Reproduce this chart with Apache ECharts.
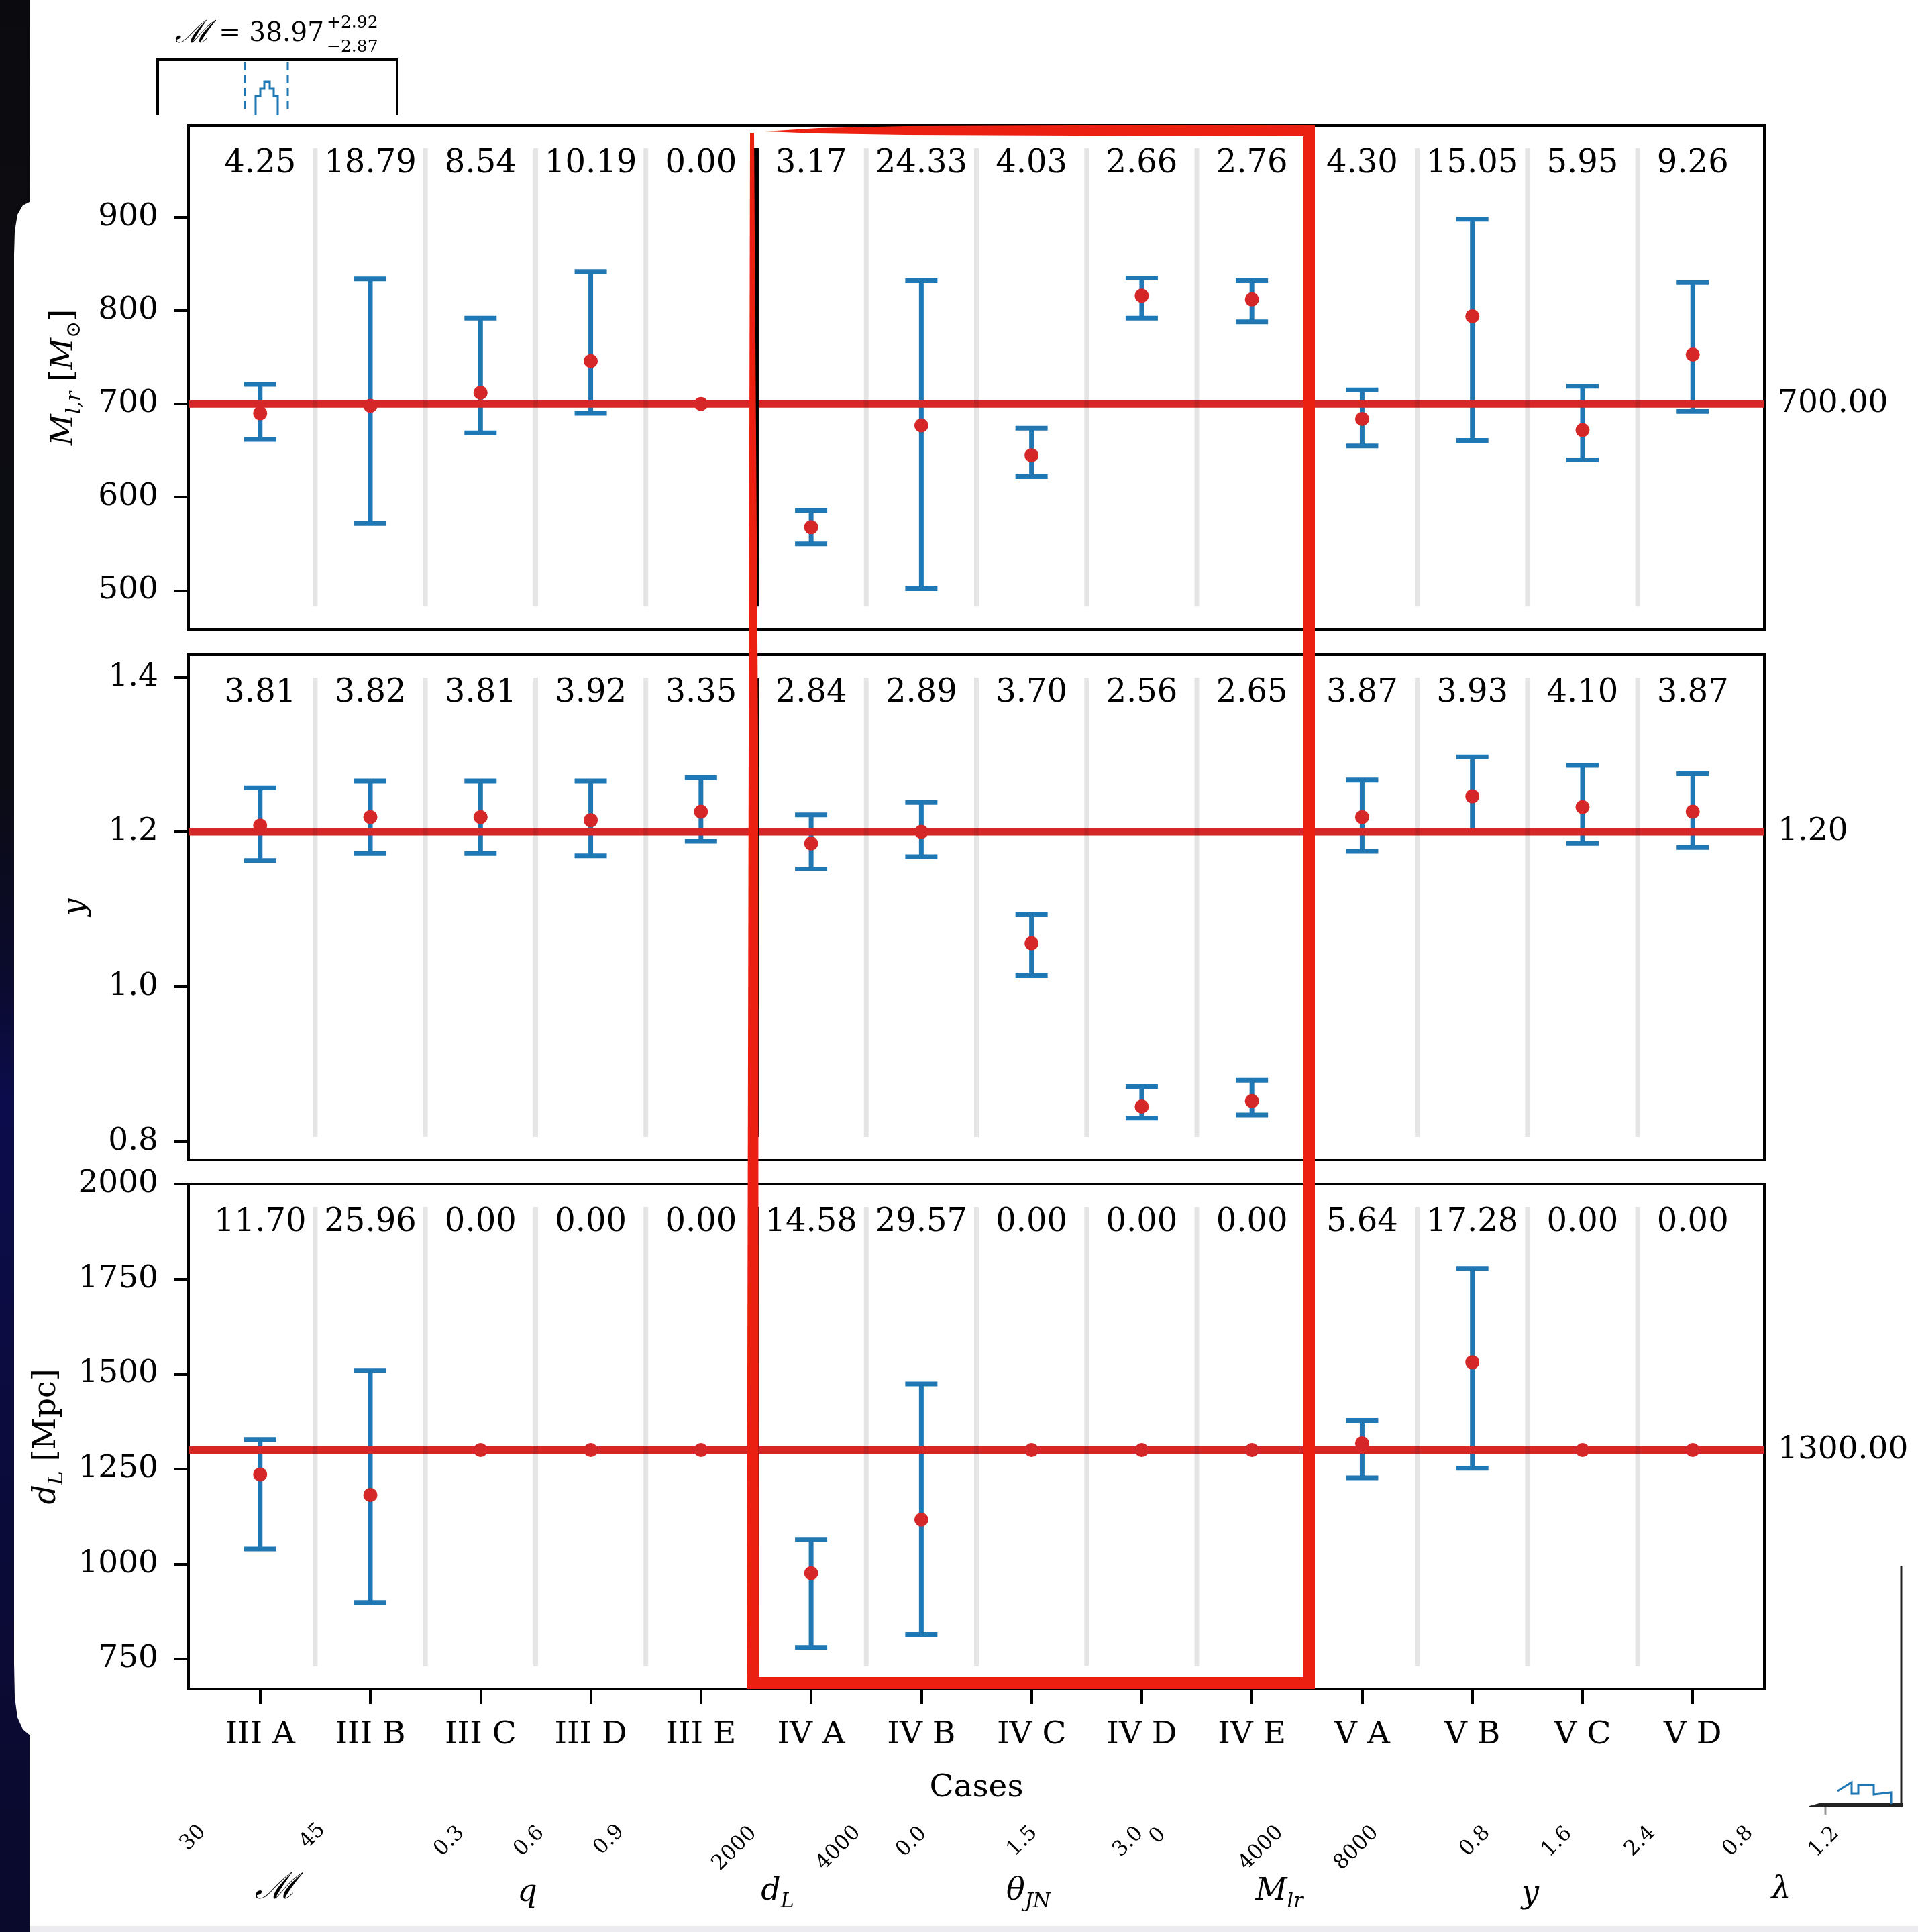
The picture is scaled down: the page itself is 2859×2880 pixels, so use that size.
<!DOCTYPE html>
<html><head><meta charset="utf-8">
<script src="https://cdn.jsdelivr.net/npm/echarts@6/dist/echarts.min.js"></script>
<style>html,body{margin:0;padding:0;background:#fff}#c{width:2859px;height:2880px}</style>
</head><body><div id="c"></div>
<script>
// ---------------- data ----------------
const cases = ['III A','III B','III C','III D','III E','IV A','IV B','IV C','IV D','IV E','V A','V B','V C','V D'];

// panel 1: M_lr
const mlrMed = [690, 698, 712, 746, 700, 568, 677, 645, 816, 812, 684, 794, 672, 753];
const mlrLo  = [662, 572, 669, 690, 700, 550, 502, 622, 792, 788, 655, 661, 640, 692];
const mlrHi  = [721, 834, 792, 842, 700, 586, 832, 674, 835, 832, 715, 898, 719, 830];
const mlrScore = ['4.25','18.79','8.54','10.19','0.00','3.17','24.33','4.03','2.66','2.76','4.30','15.05','5.95','9.26'];
const mlrTicks = [500, 600, 700, 800, 900];
const mlrTrue = 700;

// panel 2: y
const yMed = [1.208, 1.219, 1.219, 1.215, 1.226, 1.185, 1.200, 1.056, 0.845, 0.852, 1.219, 1.246, 1.232, 1.226];
const yLo  = [1.163, 1.172, 1.172, 1.169, 1.188, 1.152, 1.168, 1.014, 0.830, 0.834, 1.175, 1.200, 1.185, 1.180];
const yHi  = [1.257, 1.266, 1.266, 1.266, 1.270, 1.222, 1.238, 1.093, 0.871, 0.879, 1.267, 1.297, 1.286, 1.275];
const yScore = ['3.81','3.82','3.81','3.92','3.35','2.84','2.89','3.70','2.56','2.65','3.87','3.93','4.10','3.87'];
const yTicks = [0.8, 1.0, 1.2, 1.4];
const yTrue = 1.2;

// panel 3: d_L
const dMed = [1236, 1182, 1300, 1300, 1300, 976, 1117, 1300, 1300, 1300, 1318, 1531, 1300, 1300];
const dLo  = [1040, 899, 1300, 1300, 1300, 781, 815, 1300, 1300, 1300, 1227, 1252, 1300, 1300];
const dHi  = [1328, 1510, 1300, 1300, 1300, 1065, 1474, 1300, 1300, 1300, 1378, 1778, 1300, 1300];
const dScore = ['11.70','25.96','0.00','0.00','0.00','14.58','29.57','0.00','0.00','0.00','5.64','17.28','0.00','0.00'];
const dTicks = [750, 1000, 1250, 1500, 1750, 2000];
const dTrue = 1300;

// fragments of the corner plot below / above
const cornerTickLabels = ['30','45','0.3','0.6','0.9','2000','4000','0.0','1.5','3.0','0','4000','8000','0.8','1.6','2.4','0.8','1.2'];
const cornerParamLabels = ['{c|ℳ}','{i|q}','{i|d}{s|L}','{i|θ}{s|JN}','{i|M}{s|lr}','{i|y}','{i|λ}'];
const insetMain = '{c|ℳ} = 38.97';
const insetUp = '+2.92';
const insetDown = '−2.87';

// ---------------- layout / style ----------------
const FONT = '"DejaVu Serif", "Liberation Serif", serif';
const BLUE = '#1f77b4', RED = '#d62728', MARK = '#ec2010';
const cornerTickPos = [[288,2740],[466,2737],[670,2745],[789,2745],[908,2743],[1095,2756],[1250,2755],[1359,2746],[1524,2745],[1682,2746],[1726,2737],[1880,2755],[2022,2755],[2199,2745],[2321,2746],[2445,2745],[2591,2745],[2719,2746]];
const cornerParamPos = [[411,2816],[786,2822],[1159,2820],[1533,2820],[1907,2820],[2281,2824],[2655,2818]];

const panels = [
  {med: mlrMed, lo: mlrLo, hi: mlrHi, score: mlrScore, ref: mlrTrue, refLabel: mlrTrue.toFixed(2),
   min: 458.5, max: 998.5, ticks: mlrTicks, fmt: v => String(v),
   name: '{i|M}{s|l,r} [{i|M}{s|⊙}]', nameGap: 155, top: 187, height: 751},
  {med: yMed, lo: yLo, hi: yHi, score: yScore, ref: yTrue, refLabel: yTrue.toFixed(2),
   min: 0.776, max: 1.429, ticks: yTicks, fmt: v => v.toFixed(1),
   name: '{i|y}', nameGap: 138, top: 976, height: 753},
  {med: dMed, lo: dLo, hi: dHi, score: dScore, ref: dTrue, refLabel: dTrue.toFixed(2),
   min: 671, max: 2000, ticks: dTicks, fmt: v => String(v),
   name: '{i|d}{s|L} [Mpc]', nameGap: 181, top: 1765, height: 753}
];

const caseIdx = cases.map((c, i) => i);
const richName = {
  i: {fontFamily: FONT, fontStyle: 'italic', fontSize: 46, lineHeight: 60, color: '#000'},
  s: {fontFamily: FONT, fontStyle: 'italic', fontSize: 30, lineHeight: 30, verticalAlign: 'bottom', color: '#000'},
  c: {fontFamily: FONT, fontStyle: 'italic', fontSize: 54, lineHeight: 60, color: '#000'}
};

const grid = [], xAxis = [], yAxis = [], series = [];
panels.forEach((p, k) => {
  grid.push({left: 281, top: p.top, width: 2349, height: p.height, show: true,
             borderColor: '#000', borderWidth: 4, backgroundColor: '#fff'});
  const last = k === panels.length - 1;
  xAxis.push({
    gridIndex: k, type: 'value', min: -0.65, max: 13.65, position: 'bottom',
    splitLine: {show: false}, axisLine: {show: false, onZero: false},
    axisTick: last ? {show: true, customValues: caseIdx, length: 22, lineStyle: {color: '#000', width: 4}} : {show: false},
    axisLabel: last ? {show: true, customValues: caseIdx, formatter: v => cases[Math.round(v)],
                       fontFamily: FONT, fontSize: 47, color: '#000', margin: 45} : {show: false},
    name: last ? 'Cases' : '', nameLocation: 'middle', nameGap: 124,
    nameTextStyle: {fontFamily: FONT, fontSize: 47, color: '#000'}
  });
  yAxis.push({
    gridIndex: k, type: 'value', min: p.min, max: p.max, position: 'left',
    splitLine: {show: false}, axisLine: {show: false, onZero: false},
    axisTick: {show: true, customValues: p.ticks, length: 21, lineStyle: {color: '#000', width: 4}},
    axisLabel: {customValues: p.ticks, formatter: p.fmt, fontFamily: FONT, fontSize: 47, color: '#000', margin: 45},
    name: p.name, nameLocation: 'middle', nameGap: p.nameGap,
    nameTextStyle: {fontFamily: FONT, fontSize: 46, color: '#000', rich: richName}
  });

  // error bars
  series.push({
    type: 'custom', xAxisIndex: k, yAxisIndex: k, z: 2, silent: true,
    data: p.med.map((m, i) => [i, p.lo[i], p.hi[i]]),
    renderItem: (params, api) => {
      const a = api.coord([api.value(0), api.value(1)]);
      const b = api.coord([api.value(0), api.value(2)]);
      const st = {stroke: BLUE, lineWidth: 7};
      return {type: 'group', children: [
        {type: 'line', shape: {x1: a[0], y1: a[1], x2: b[0], y2: b[1]}, style: st},
        {type: 'line', shape: {x1: a[0] - 24, y1: a[1], x2: a[0] + 24, y2: a[1]}, style: st},
        {type: 'line', shape: {x1: b[0] - 24, y1: b[1], x2: b[0] + 24, y2: b[1]}, style: st}
      ]};
    }
  });
  // reference line + right label
  series.push({
    type: 'custom', xAxisIndex: k, yAxisIndex: k, z: 3, silent: true,
    data: [[0, p.ref]],
    renderItem: (params, api) => {
      const cs = params.coordSys;
      const y = api.coord([0, api.value(1)])[1];
      return {type: 'group', children: [
        {type: 'line', shape: {x1: cs.x, y1: y, x2: cs.x + cs.width, y2: y}, style: {stroke: RED, lineWidth: 11}},
        {type: 'text', x: cs.x + cs.width + 20, y: y,
         style: {text: p.refLabel, fontFamily: FONT, fontSize: 47, fill: '#000', align: 'left', verticalAlign: 'middle'}}
      ]};
    }
  });
  // separators between cases
  series.push({
    type: 'custom', xAxisIndex: k, yAxisIndex: k, z: 4, silent: true,
    data: cases.slice(1).map((c, i) => [i + 0.5, p.min]),
    renderItem: (params, api) => {
      const cs = params.coordSys;
      const v = api.value(0);
      const x = api.coord([v, p.min])[0];
      const groupEdge = cases[Math.floor(v)].split(' ')[0] === 'III' && cases[Math.ceil(v)].split(' ')[0] === 'IV';
      return {type: 'line',
        shape: {x1: x, y1: cs.y + cs.height * 0.045, x2: x, y2: cs.y + cs.height * 0.955},
        style: groupEdge ? {stroke: '#000', lineWidth: 8} : {stroke: 'rgba(0,0,0,0.1)', lineWidth: 7}};
    }
  });
  // median points
  series.push({
    type: 'scatter', xAxisIndex: k, yAxisIndex: k, z: 5, silent: true,
    symbol: 'circle', symbolSize: 21, itemStyle: {color: RED, opacity: 1},
    data: p.med.map((m, i) => [i, m])
  });
  // score labels
  series.push({
    type: 'custom', xAxisIndex: k, yAxisIndex: k, z: 6, silent: true,
    data: p.score.map((s, i) => [i, p.min]),
    renderItem: (params, api) => {
      const cs = params.coordSys;
      const x = api.coord([api.value(0), p.min])[0];
      return {type: 'text', x: x, y: cs.y + 58,
        style: {text: p.score[params.dataIndex], fontFamily: FONT, fontSize: 48, fill: '#000', align: 'center', verticalAlign: 'middle'}};
    }
  });
});

// ---------------- decorative graphic (screenshot frame, corner-plot fragments, annotation box) ----------------
const graphic = [];
// dark left strip
graphic.push({type: 'rect', z: 0, shape: {x: 0, y: 0, width: 44, height: 2880},
  style: {fill: {type: 'linear', x: 0, y: 0, x2: 0, y2: 1, colorStops: [
    {offset: 0, color: '#0b0b0f'}, {offset: 0.40, color: '#0c0c14'}, {offset: 0.50, color: '#0b0b2c'},
    {offset: 0.57, color: '#0c0c4c'}, {offset: 0.78, color: '#0b0b3a'}, {offset: 1, color: '#0a0a2c'}]}}});
graphic.push({type: 'polygon', z: 1, shape: {points: [[46,300],[34,306],[26,320],[22,345],[21,380],[21,2480],[22,2530],[26,2560],[34,2578],[46,2588]]},
  style: {fill: '#fff'}});
graphic.push({type: 'rect', z: 1, shape: {x: 44, y: 2871, width: 2815, height: 9}, style: {fill: '#ebebf0'}});

// inset at top-left
graphic.push({type: 'polyline', z: 1, shape: {points: [[235,172],[235,89],[592,89],[592,172]]}, style: {stroke: '#000', lineWidth: 4, fill: null}});
[365, 429].forEach(x => graphic.push({type: 'line', z: 1, shape: {x1: x, y1: 93, x2: x, y2: 166},
  style: {stroke: BLUE, lineWidth: 3, lineDash: [12, 7]}}));
graphic.push({type: 'polyline', z: 1, shape: {points: [[381,172],[381,143],[388,143],[388,132],[394,132],[394,122],[402,122],[402,132],[408,132],[408,143],[414,143],[414,172]]},
  style: {stroke: BLUE, lineWidth: 3, fill: null}});
graphic.push({type: 'text', z: 1, x: 483, y: 51, style: {text: insetMain, fontFamily: FONT, fontSize: 39, fill: '#000', align: 'right', verticalAlign: 'middle',
  rich: {c: {fontFamily: FONT, fontStyle: 'italic', fontSize: 46, fill: '#000'}}}});
graphic.push({type: 'text', z: 1, x: 487, y: 34, style: {text: insetUp, fontFamily: FONT, fontSize: 25, fill: '#000', align: 'left', verticalAlign: 'middle'}});
graphic.push({type: 'text', z: 1, x: 487, y: 70, style: {text: insetDown, fontFamily: FONT, fontSize: 25, fill: '#000', align: 'left', verticalAlign: 'middle'}});

// bottom corner-plot tick labels and names
cornerTickLabels.forEach((t, i) => graphic.push({type: 'text', z: 1, x: cornerTickPos[i][0], y: cornerTickPos[i][1], rotation: Math.PI / 4,
  style: {text: t, fontFamily: FONT, fontSize: 31, fill: '#000', align: 'center', verticalAlign: 'middle'}}));
cornerParamLabels.forEach((t, i) => graphic.push({type: 'text', z: 1, x: cornerParamPos[i][0], y: cornerParamPos[i][1],
  style: {text: t, fontFamily: FONT, fontSize: 46, fill: '#000', align: 'center', verticalAlign: 'middle', rich: richName}}));

// bottom-right histogram fragment
graphic.push({type: 'line', z: 1, shape: {x1: 2834, y1: 2334, x2: 2834, y2: 2691}, style: {stroke: '#222', lineWidth: 3}});
graphic.push({type: 'polygon', z: 1, shape: {points: [[2697,2692],[2712,2688],[2836,2688],[2836,2693],[2697,2693]]}, style: {fill: '#222'}});
graphic.push({type: 'line', z: 1, shape: {x1: 2721, y1: 2693, x2: 2721, y2: 2705}, style: {stroke: '#999', lineWidth: 3}});
graphic.push({type: 'polyline', z: 1, shape: {points: [[2739,2670],[2760,2657],[2760,2674],[2770,2674],[2770,2661],[2793,2661],[2793,2675],[2819,2672],[2819,2689]]},
  style: {stroke: BLUE, lineWidth: 3, fill: null}});

// hand-drawn red annotation box
graphic.push({type: 'polygon', z: 100, shape: {points: [[1118,198],[1124,198],[1130,1100],[1131,2518],[1113,2518],[1116,1100]]}, style: {fill: MARK}});
graphic.push({type: 'polygon', z: 100, shape: {points: [[1140,196],[1220,191],[1350,188],[1600,187],[1960,186],[1960,203],[1600,202],[1350,201],[1220,199]]}, style: {fill: MARK}});
graphic.push({type: 'rect', z: 100, shape: {x: 1943, y: 186, width: 17, height: 2332}, style: {fill: MARK}});
graphic.push({type: 'rect', z: 100, shape: {x: 1113, y: 2500, width: 847, height: 18}, style: {fill: MARK}});

const chart = echarts.init(document.getElementById('c'), null, {renderer: 'canvas', width: 2859, height: 2880});
chart.setOption({
  backgroundColor: '#fff',
  animation: false,
  grid, xAxis, yAxis, series, graphic
});
</script>
</body></html>
